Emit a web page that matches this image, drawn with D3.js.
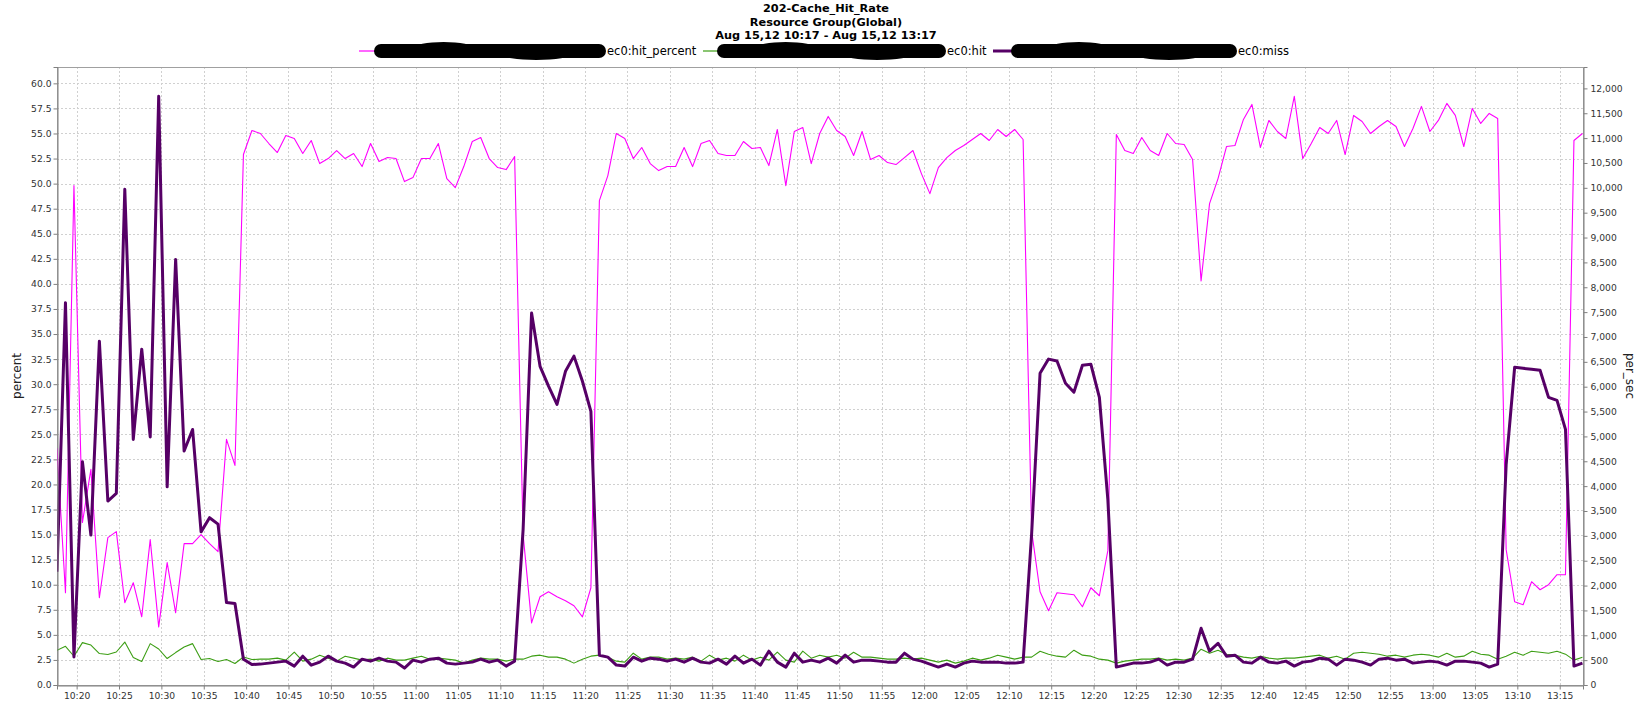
<!DOCTYPE html>
<html><head><meta charset="utf-8">
<script src="https://cdn.jsdelivr.net/npm/d3@7"></script>
<style>body{margin:0;background:#fff} svg{display:block}</style>
</head><body><svg id="c" width="1652" height="706"></svg>
<script>
const titleLines = ["202-Cache_Hit_Rate", "Resource Group(Global)", "Aug 15,12 10:17 - Aug 15,12 13:17"];
const seriesNames = ["ec0:hit_percent", "ec0:hit", "ec0:miss"];
const startTime = "2012-08-15T10:17:41";
const leftAxisLabel = "percent";
const rightAxisLabel = "per_sec";
const leftTickValues = [0,2.5,5,7.5,10,12.5,15,17.5,20,22.5,25,27.5,30,32.5,35,37.5,40,42.5,45,47.5,50,52.5,55,57.5,60];
const rightTickValues = [0,500,1000,1500,2000,2500,3000,3500,4000,4500,5000,5500,6000,6500,7000,7500,8000,8500,9000,9500,10000,10500,11000,11500,12000];
const timeTickLabels = ["10:20","10:25","10:30","10:35","10:40","10:45","10:50","10:55","11:00","11:05","11:10","11:15","11:20","11:25","11:30","11:35","11:40","11:45","11:50","11:55","12:00","12:05","12:10","12:15","12:20","12:25","12:30","12:35","12:40","12:45","12:50","12:55","13:00","13:05","13:10","13:15"];

// one sample per minute
const hitPercent = [
23.6,9.2,49.8,16.2,21.5,8.7,14.7,15.3,8.2,10.2,6.8,14.5,5.8,12.2,7.2,14.1,14.1,15.0,14.1,13.3,24.5,21.9,52.9,55.3,
55.0,54.0,53.1,54.8,54.5,53.0,54.3,52.0,52.5,53.3,52.5,53.0,51.7,54.0,52.2,52.6,52.5,50.2,50.6,52.5,52.5,54.0,50.5,49.6,51.7,54.2,54.6,52.5,51.6,51.4,52.7,
15.0,6.2,8.8,9.3,8.8,8.4,7.9,6.8,9.7,
48.3,50.8,55.0,54.5,52.5,53.6,52.0,51.3,51.7,51.7,53.6,51.7,54.0,54.3,53.0,52.8,52.8,54.2,53.5,53.6,51.8,55.4,49.8,55.2,55.6,52.0,55.0,56.7,55.3,54.7,52.8,55.2,52.4,52.8,52.1,51.9,52.6,53.3,51.0,49.0,51.6,52.6,53.3,53.8,54.4,55.0,54.3,55.4,54.7,55.4,54.4,
15.4,9.3,7.4,9.2,9.1,9.0,7.8,9.7,8.9,13.4,
54.9,53.3,53.0,54.6,53.3,52.8,55.0,54.0,53.9,52.4,40.3,48.0,50.5,53.7,53.8,56.4,57.9,53.6,56.3,55.2,54.5,58.7,52.5,54.0,55.6,55.0,56.3,52.9,56.8,56.2,55.0,55.7,56.3,55.7,53.7,55.5,57.7,55.2,56.3,58.0,56.8,53.7,57.5,56.0,57.0,56.5,
13.5,8.3,8.0,10.3,9.5,10.0,11.0,11.0,54.3,55.0
];
const hitPerSec = [
698,778,578,852,804,632,612,664,864,552,472,832,724,532,652,764,832,512,532,472,512,432,564,512,
520,520,540,500,660,480,520,600,540,480,580,540,500,520,480,540,500,500,540,580,520,540,520,500,440,500,540,520,520,480,520,
520,580,600,560,560,520,440,520,580,600,
560,480,460,640,520,560,560,520,540,520,560,480,600,500,540,480,600,500,560,500,660,500,460,680,540,600,560,600,540,660,560,560,540,520,520,540,520,540,500,460,500,440,480,540,500,540,600,560,520,560,
560,680,620,580,560,700,600,580,520,500,
440,480,500,520,520,540,500,520,500,540,720,640,700,620,600,560,540,580,540,520,540,540,560,580,600,540,580,520,640,660,640,620,580,600,560,600,620,600,560,640,560,580,680,620,600,520,
580,660,600,680,660,640,680,620,500,560
];
const missPerSec = [
2280,7690,564,4490,3015,6915,3700,3855,9970,4940,6755,4990,11840,3985,8560,4705,5140,3080,3365,3235,1660,1640,518,412,
420,440,460,480,380,580,400,460,580,480,440,360,520,480,540,480,460,340,500,460,520,540,440,420,440,460,520,460,500,380,480,
3125,7480,6410,6010,5645,6310,6615,6110,5505,600,
560,400,380,560,480,540,520,480,520,460,540,460,440,520,420,580,440,520,400,680,460,360,640,460,500,460,540,440,600,460,500,500,480,460,460,640,520,480,420,360,420,360,440,480,460,460,460,440,440,460,
3025,6270,6555,6515,6070,5890,6430,6450,5785,3730,
360,400,440,440,460,520,400,460,460,520,1140,680,840,580,600,460,440,560,460,440,480,380,460,480,540,520,400,520,500,460,400,520,540,500,520,440,460,480,460,400,480,480,460,440,360,420,
4435,6390,6370,6350,6330,5785,5725,5140,380,440
];

const colors = {hitPercent: "#ff00ff", hit: "#3c9e14", miss: "#560066"};

const W = 1652, H = 706;
const plot = {left: 57, right: 1583, top: 67, bottom: 685};
const svg = d3.select("#c");
const FONT = "'DejaVu Sans', Verdana, sans-serif";

const t0 = new Date(startTime);
const n = hitPercent.length;
const times = d3.range(n).map(i => new Date(t0.getTime() + i * 60000));

const x = d3.scaleTime().domain([times[0], new Date(times[n-1].getTime() + 4000)]).range([plot.left, plot.right]);
const yL = d3.scaleLinear().domain([0, 61.63]).range([plot.bottom, plot.top]);
const yR = d3.scaleLinear().domain([0, 12430]).range([plot.bottom, plot.top]);

const parse = d3.timeParse("%Y-%m-%d %H:%M");
const timeTicks = timeTickLabels.map(s => parse("2012-08-15 " + s));

// grid
const g = svg.append("g");
g.selectAll("line.hg").data(leftTickValues).join("line")
  .attr("x1", plot.left).attr("x2", plot.right)
  .attr("y1", d => Math.round(yL(d)) + 0.5).attr("y2", d => Math.round(yL(d)) + 0.5)
  .attr("stroke", "#d0d0d0").attr("stroke-dasharray", "2,2").attr("stroke-width", 1);
g.selectAll("line.vg").data(timeTicks).join("line")
  .attr("x1", d => Math.round(x(d)) + 0.5).attr("x2", d => Math.round(x(d)) + 0.5)
  .attr("y1", plot.top).attr("y2", plot.bottom)
  .attr("stroke", "#d0d0d0").attr("stroke-dasharray", "2,2").attr("stroke-width", 1);

// plot outline
svg.append("rect").attr("x", plot.left + 0.5).attr("y", plot.top + 0.5)
  .attr("width", plot.right - plot.left).attr("height", plot.bottom - plot.top)
  .attr("fill", "none").attr("stroke", "#a0a0a0");

// lines
const lineL = d3.line().x((d, i) => x(times[i])).y(d => yL(d));
const lineR = d3.line().x((d, i) => x(times[i])).y(d => yR(d));
const clip = svg.append("clipPath").attr("id", "pc").append("rect")
  .attr("x", plot.left).attr("y", plot.top).attr("width", plot.right - plot.left).attr("height", plot.bottom - plot.top);
const lg = svg.append("g").attr("clip-path", "url(#pc)");
lg.append("path").datum(hitPercent).attr("d", lineL).attr("fill", "none").attr("stroke", colors.hitPercent).attr("stroke-width", 1.1).attr("stroke-linejoin", "round");
lg.append("path").datum(hitPerSec).attr("d", lineR).attr("fill", "none").attr("stroke", colors.hit).attr("stroke-width", 1.1).attr("stroke-linejoin", "round");
lg.append("path").datum(missPerSec).attr("d", lineR).attr("fill", "none").attr("stroke", colors.miss).attr("stroke-width", 3).attr("stroke-linejoin", "round");

// axes
const axisColor = "#808080";
const tickFont = 9.2;
const axL = svg.append("g").attr("transform", `translate(${plot.left + 0.5},0)`)
  .call(d3.axisLeft(yL).tickValues(leftTickValues).tickFormat(d3.format(".1f")).tickSize(4).tickPadding(2));
const axR = svg.append("g").attr("transform", `translate(${plot.right + 0.5},0)`)
  .call(d3.axisRight(yR).tickValues(rightTickValues).tickFormat(d3.format(",")).tickSize(4).tickPadding(3));
const axB = svg.append("g").attr("transform", `translate(0,${plot.bottom + 0.5})`)
  .call(d3.axisBottom(x).tickValues(timeTicks).tickFormat(d3.timeFormat("%H:%M")).tickSize(4).tickPadding(3));
[axL, axR, axB].forEach(a => {
  a.select(".domain").attr("stroke", axisColor);
  a.selectAll(".tick line").attr("stroke", axisColor);
  a.selectAll("text").attr("font-family", FONT).attr("font-size", tickFont).attr("fill", "#333");
});

// axis labels
svg.append("text").attr("transform", `translate(21,${(plot.top + plot.bottom) / 2}) rotate(-90)`)
  .attr("text-anchor", "middle").attr("font-family", FONT).attr("font-size", 12).attr("fill", "#222").text(leftAxisLabel);
svg.append("text").attr("transform", `translate(1626,${(plot.top + plot.bottom) / 2}) rotate(90)`)
  .attr("text-anchor", "middle").attr("font-family", FONT).attr("font-size", 12).attr("fill", "#222").text(rightAxisLabel);

// title
svg.selectAll("text.title").data(titleLines).join("text")
  .attr("x", 826).attr("y", (d, i) => 12 + i * 13.5)
  .attr("text-anchor", "middle").attr("font-family", FONT).attr("font-weight", "bold")
  .attr("font-size", 11.3).attr("fill", "#000").text(d => d);

// legend
const legendItems = [
  {name: seriesNames[0], color: colors.hitPercent, w: 1.2, lx: 359, bx0: 374, bx1: 606},
  {name: seriesNames[1], color: colors.hit, w: 1.2, lx: 703, bx0: 717, bx1: 946},
  {name: seriesNames[2], color: colors.miss, w: 3, lx: 993, bx0: 1011, bx1: 1237}
];
const ly = 51;
const leg = svg.append("g");
legendItems.forEach(it => {
  leg.append("line").attr("x1", it.lx).attr("x2", it.bx0 + 4).attr("y1", ly).attr("y2", ly)
    .attr("stroke", it.color).attr("stroke-width", it.w);
  // redaction blob
  leg.append("rect").attr("x", it.bx0).attr("y", ly - 7).attr("width", it.bx1 - it.bx0).attr("height", 14)
    .attr("rx", 7).attr("fill", "#000");
  leg.append("ellipse").attr("cx", it.bx0 + (it.bx1 - it.bx0) * 0.3).attr("cy", ly - 3).attr("rx", 30).attr("ry", 6).attr("fill", "#000");
  leg.append("ellipse").attr("cx", it.bx0 + (it.bx1 - it.bx0) * 0.7).attr("cy", ly + 3).attr("rx", 35).attr("ry", 6).attr("fill", "#000");
  leg.append("text").attr("x", it.bx1 + 1).attr("y", ly + 4).attr("font-family", FONT).attr("font-size", 11.5)
    .attr("fill", "#000").text(it.name);
});
</script></body></html>
